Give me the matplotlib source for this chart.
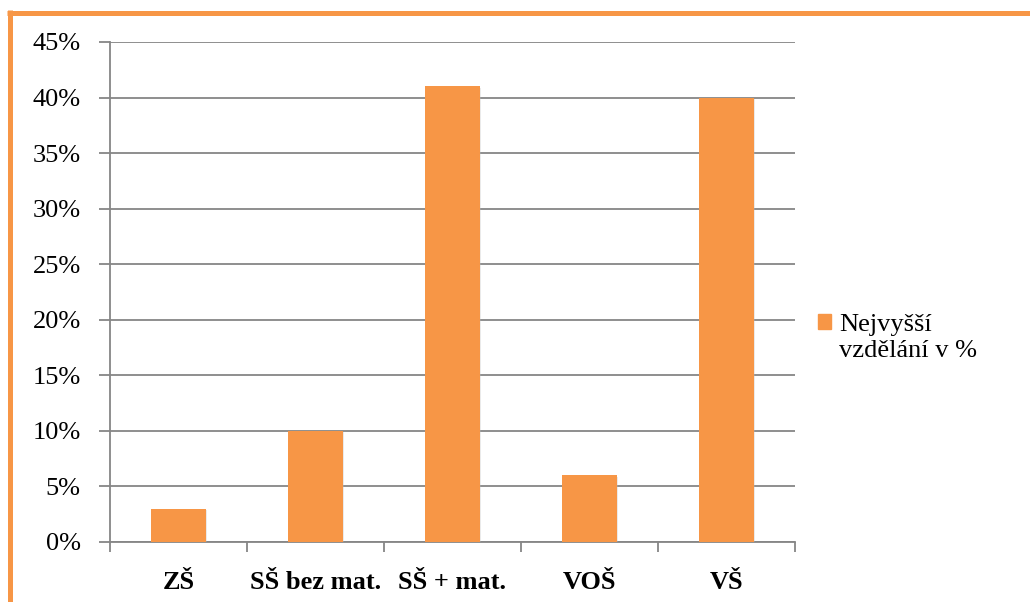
import matplotlib
matplotlib.use("Agg")
import matplotlib.pyplot as plt
from matplotlib import ticker
from matplotlib.lines import Line2D
from matplotlib.patches import Rectangle
from matplotlib.legend_handler import HandlerPatch
import matplotlib.patheffects as pe

categories = ["ZŠ", "SŠ bez mat.", "SŠ + mat.", "VOŠ", "VŠ"]
values = [3, 10, 41, 6, 40]
series_name = "Nejvyšší\nvzdělání v %"

orange = "#F79646"
grid_col = "#868686"
font = "Liberation Serif"

plt.rcParams["font.family"] = [font, "DejaVu Serif"]


def top_line_patch(legend, orig_handle, xdescent, ydescent, width, height, fontsize):
    # lift the swatch so it lines up with the first line of a two-line label
    return Rectangle((-xdescent, -ydescent + 0.6 * fontsize), width, height)


W, H = 1030, 602
fig = plt.figure(figsize=(W / 100, H / 100), dpi=100)
ax = fig.add_axes([110 / W, 1 - 542 / H, (795 - 110) / W, (542 - 42) / H])

x = range(len(categories))
bars = ax.bar(x, values, width=0.4, color=orange, zorder=3, label=series_name)
for b in bars:
    b.set_path_effects([pe.SimplePatchShadow(offset=(1, -1), shadow_rgbFace="#bbbbbb", alpha=0.3),
                        pe.Normal()])

ax.set_xlim(-0.5, len(categories) - 0.5)
ax.set_ylim(0, 45)
ax.yaxis.set_major_locator(ticker.MultipleLocator(5))
ax.yaxis.set_major_formatter(ticker.FuncFormatter(lambda v, p: f"{v:.0f}%"))
ax.grid(axis="y", color=grid_col, linewidth=1.3, zorder=0)

# category ticks sit between the bars
ax.set_xticks([i + 0.5 for i in range(-1, len(categories))], minor=False)
ax.set_xticklabels([])
ax.set_xticks(list(x), minor=True)
ax.set_xticklabels(categories, minor=True, fontweight="bold", fontsize=19, family=font)
ax.tick_params(axis="x", which="major", length=7, color=grid_col, width=1.3)
ax.tick_params(axis="x", which="minor", length=0, pad=21)
ax.tick_params(axis="y", length=8, color=grid_col, width=1.3, labelsize=19, pad=13)
for lab in ax.get_yticklabels():
    lab.set_family(font)

for s in ["top", "right"]:
    ax.spines[s].set_visible(False)
for s in ["left", "bottom"]:
    ax.spines[s].set_color(grid_col)
    ax.spines[s].set_linewidth(1.3)

swatch = Rectangle((0, 0), 1, 1, color=orange)
leg = fig.legend(handles=[swatch], labels=[series_name], loc="upper left",
                 bbox_to_anchor=(818 / W, 1 - 314 / H), frameon=False,
                 prop={"family": font, "size": 19},
                 handler_map={swatch: HandlerPatch(patch_func=top_line_patch)},
                 handlelength=0.5, handleheight=0.5, handletextpad=0.3,
                 borderpad=0, borderaxespad=0)
for t in leg.get_texts():
    t.set_linespacing(1.25)

# orange frame along the top and left edges
fig.add_artist(Line2D([9.5 / W, 9.5 / W], [0, 1 - 10 / H], color=orange, linewidth=3.6, solid_capstyle="butt"))
fig.add_artist(Line2D([7 / W, 1], [1 - 12.5 / H, 1 - 12.5 / H], color=orange, linewidth=3.6, solid_capstyle="butt"))

fig.savefig("out.png", dpi=100)
